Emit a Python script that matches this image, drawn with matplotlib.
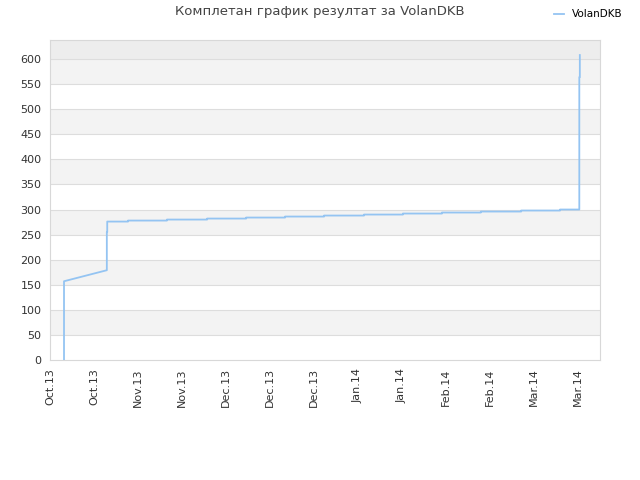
import numpy as np
import pandas as pd
import matplotlib
matplotlib.use("Agg")
import matplotlib.pyplot as plt
import matplotlib.dates as mdates

# points of the result line (time, score)
times = ["2013-10-10 11:00", "2013-10-10 11:00", "2013-10-24 02:00", "2013-10-24 02:00",
         "2013-10-24 05:00", "2013-10-24 05:00", "2013-10-30 20:00", "2013-10-30 20:00",
         "2013-11-12 05:00", "2013-11-12 05:00", "2013-11-25 00:00", "2013-11-25 00:00",
         "2013-12-07 10:00", "2013-12-07 10:00", "2013-12-19 19:00", "2013-12-19 19:00",
         "2014-01-01 05:00", "2014-01-01 05:00", "2014-01-13 22:00", "2014-01-13 22:00",
         "2014-01-26 07:00", "2014-01-26 07:00", "2014-02-07 17:00", "2014-02-07 17:00",
         "2014-02-20 02:00", "2014-02-20 02:00", "2014-03-04 22:00", "2014-03-04 22:00",
         "2014-03-17 07:00", "2014-03-17 07:00", "2014-03-23 10:00", "2014-03-23 10:00",
         "2014-03-23 14:00", "2014-03-23 14:00"]
scores = [0, 157, 179, 255,
          255, 276, 276, 278,
          278, 280, 280, 282,
          282, 284, 284, 286,
          286, 288, 288, 290,
          290, 292, 292, 294,
          294, 296, 296, 298,
          298, 300, 300, 564,
          564, 608]

tick_dates = ["2013-10-06", "2013-10-20", "2013-11-03", "2013-11-17", "2013-12-01",
              "2013-12-15", "2013-12-29", "2014-01-12", "2014-01-26", "2014-02-09",
              "2014-02-23", "2014-03-09", "2014-03-23"]

t = pd.to_datetime(times)
ticks = pd.to_datetime(tick_dates)

fig = plt.figure(figsize=(6.4, 4.8), dpi=100)
ax = fig.add_axes([50/640, 120/480, 550/640, 320/480])

ymax = 638
# alternating bands
for lo in range(50, 600, 100):
    ax.axhspan(lo, lo + 50, color="#f3f3f3", zorder=0, lw=0)
ax.axhspan(600, ymax, color="#ededed", zorder=0, lw=0)
for yv in range(50, 650, 50):
    ax.axhline(yv, color="#dddddd", lw=0.8, zorder=1)

ax.plot(t, scores, color="#94c4f2", lw=1.3, label="VolanDKB", zorder=3)

ax.set_xlim(pd.Timestamp("2013-10-06"), pd.Timestamp("2014-03-30"))
ax.set_ylim(0, ymax)
ax.set_yticks(range(0, 650, 50))
ax.set_xticks(ticks)
ax.xaxis.set_major_formatter(mdates.DateFormatter("%b.%y"))
plt.setp(ax.get_xticklabels(), rotation=90)
ax.tick_params(length=0, labelsize=8, colors="#333333", pad=6)

for s in ax.spines.values():
    s.set_color("#d8d8d8")

fig.text(0.5, 1 - 12/480, "Комплетан график резултат за VolanDKB",
         ha="center", va="center", fontsize=9.5, color="#444444")
fig.legend(loc="upper right", bbox_to_anchor=(0.988, 1.0), frameon=False,
           fontsize=7.5, handlelength=1.0, handletextpad=0.8)

fig.savefig("out.png", dpi=100, facecolor="white")
